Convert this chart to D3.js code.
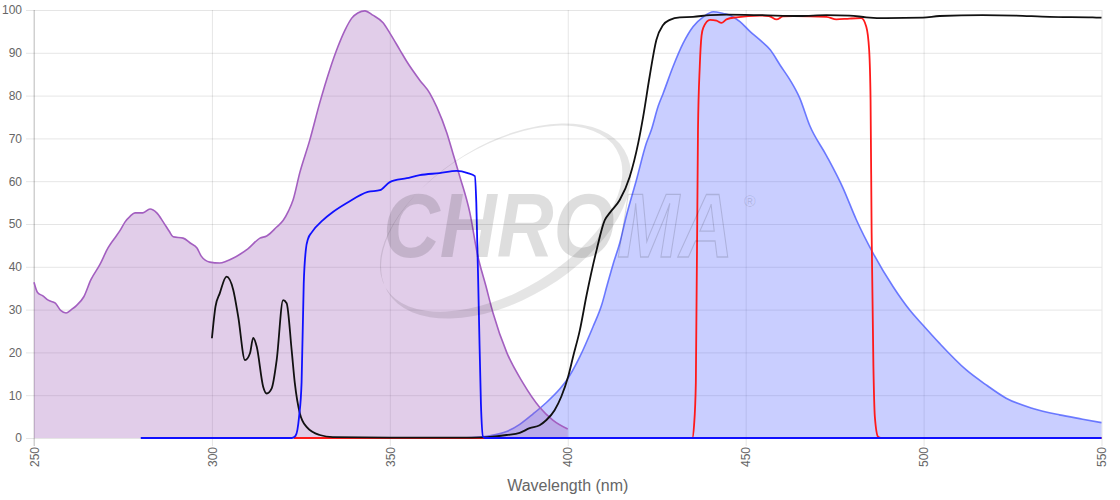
<!DOCTYPE html>
<html>
<head>
<meta charset="utf-8">
<script src="https://cdn.jsdelivr.net/npm/d3@7"></script>
<style>
  body { margin: 0; background: #fff; }
  svg { display: block; font-family: "Liberation Sans", Arial, sans-serif; }
</style>
</head>
<body>
<div id="chart"></div>
<script>
// spectra: [wavelength nm, % value]
var excitation = [[250,36.4],[251,34],[252.5,33.2],[254,32.2],[256,31.5],[257.5,29.8],[259,29.2],[260.5,30],[262,31],[264,33],[266,37],[268.5,40.5],[270.8,44.4],[272.5,46.5],[274.2,48.5],[275.6,50.5],[277,51.8],[278.4,52.6],[280.6,52.6],[282.6,53.5],[284.5,52.6],[286.3,50.5],[288,48.3],[289.1,47],[291.9,46.7],[294,45.5],[295.8,44.4],[297,42.5],[299.4,41.1],[302.2,40.9],[304,41.3],[305.9,42],[308,43],[310.1,44.2],[313.5,46.7],[315.4,47.2],[318.2,49.3],[320,50.8],[321.5,53],[322.8,55.6],[324.7,62],[327.5,69.6],[330.3,78.3],[333.1,86],[335.4,91.4],[337.4,95.3],[339.3,98.1],[341,99.3],[343,99.8],[345.2,98.8],[348.1,97],[350,94.6],[352.8,90.7],[354.8,87.9],[358.4,83.6],[361.2,80.6],[363.2,77.3],[366,71.3],[367.7,66.6],[369.7,61],[372.5,52.6],[374.6,43],[377,35.5],[379,29.2],[382.9,19.9],[387.4,12.9],[392.1,7.2],[395.8,4.2],[400,2.1]];

var emission = [[370,0],[375.3,0.2],[378,0.5],[382.8,1.5],[386.5,3.2],[390.2,5.6],[394,8.3],[397.8,11.5],[399.7,13.5],[403.4,19],[407.1,26],[409.5,31],[411,35.5],[412.7,40.5],[414.6,45.5],[416.5,52],[419.3,60.3],[422.1,68.9],[423.5,72],[425.4,77.5],[426.8,80.5],[429.6,86.8],[432.4,92.2],[435.2,96.1],[438.1,98.4],[440.9,99.6],[443.7,99.2],[445.6,98.8],[448.4,97.3],[451.2,95],[454,93],[456.9,90.7],[459.7,87.1],[462.5,83.6],[465.2,79.4],[468,73],[472.7,66],[477.3,58.5],[481.1,51],[485.8,43.2],[491.4,35.4],[496.1,29.9],[499.8,26.4],[504.5,22.1],[512,15.9],[517.6,12.4],[523.2,9.3],[530.7,6.9],[538.2,5.4],[544.7,4.4],[550,3.6]];

var exFilter = [[280,0],[322.5,0],[323.5,0.5],[324.5,5],[325.2,13],[325.8,36],[326.4,44],[327,46.5],[328.1,48.1],[331.2,50.9],[334,52.8],[337.9,54.9],[343.8,57.5],[347.2,57.9],[350,59.8],[354.8,60.7],[358.4,61.4],[364,61.9],[368.8,62.4],[371.9,61.9],[373.9,61.2],[374.3,55],[375,30],[375.6,8],[376.2,0.3],[377,0],[550,0]];

var dichroic = [[300,23.3],[301,30.7],[302.2,33.8],[304.1,37.7],[306,34.6],[307.4,28.3],[309.3,18.2],[310.7,19.8],[311.6,23.4],[312.6,21.3],[314.4,12],[315.4,10.4],[316.8,11.6],[318.2,18.2],[320,32.2],[321,31.5],[322.4,20.6],[323.3,12.8],[324.7,5.8],[326.6,2.6],[330.3,0.7],[334,0.2],[350,0.1],[370,0.1],[376,0.15],[382.8,0.7],[386.5,1.2],[389.3,2.3],[392.1,3],[394,4.2],[396.3,6.5],[398.2,9.7],[400.1,14.3],[401.5,19],[403.4,25.2],[405.3,33.4],[408.1,43.9],[410.4,50.9],[411.8,52.6],[414.6,55.6],[417.4,61],[419.8,68.9],[421.2,75.1],[423,84.4],[424.9,93],[426.8,96.5],[428.7,97.7],[431.5,98.3],[435.2,98.4],[440,98.8],[444.6,98.9],[454,98.8],[465.2,98.6],[472.7,98.8],[479.2,98.7],[483.9,98.3],[489.5,98.1],[499.8,98.2],[504.5,98.6],[516.6,98.8],[525.9,98.7],[535.4,98.4],[547.5,98.3],[550,98.2]];

var emFilter = [[323,0],[435,0],[435.5,3],[436,13],[436.6,72],[437.1,86.8],[437.6,94],[438.1,95.9],[440,97.7],[441.8,97.5],[443.2,97],[444.6,97.8],[447.4,98.3],[454,98.7],[456.5,98.6],[458.7,97.8],[460.5,98.5],[463.4,98.6],[472.7,98.4],[475.5,97.8],[479.2,98],[482.5,98.1],[483.9,96.1],[484.7,90.7],[485.1,79],[485.4,47.9],[485.9,16.7],[486.3,5],[487.2,0.3],[488,0],[550,0]];

var xTicks = [250, 300, 350, 400, 450, 500, 550];
var yTicks = [0, 10, 20, 30, 40, 50, 60, 70, 80, 90, 100];

var svgWidth = 1120, svgHeight = 500;
var margin = {top: 10, right: 18.5, bottom: 62, left: 34};
var width = svgWidth - margin.left - margin.right;
var height = svgHeight - margin.top - margin.bottom;

var svg = d3.select("#chart").append("svg")
    .attr("width", svgWidth)
    .attr("height", svgHeight);

var chartGroup = svg.append("g")
    .attr("transform", `translate(${margin.left}, ${margin.top})`);

var xScale = d3.scaleLinear().domain([250, 550]).range([0, width]);
var yScale = d3.scaleLinear().domain([0, 100]).range([height, 0]);

// watermark logo behind everything
var wm = svg.append("g").attr("class", "watermark");
var ell = function(cx, cy, rx, ry) {
    return `M${cx - rx},${cy} a${rx},${ry} 0 1,0 ${2 * rx},0 a${rx},${ry} 0 1,0 ${-2 * rx},0 Z`;
};
wm.append("path")
    .attr("transform", "translate(506,221) rotate(-31)")
    .attr("d", ell(0, 0, 138, 78) + ell(-3, -4.5, 134.5, 72.5))
    .attr("fill-rule", "evenodd")
    .attr("fill", "rgba(0,0,0,0.1)");
wm.append("text")
    .attr("transform", "translate(383,257) scale(0.875,1)")
    .attr("font-size", 90)
    .attr("font-weight", "bold")
    .attr("font-style", "italic")
    .attr("fill", "rgba(0,0,0,0.13)")
    .text("CHRO");
wm.append("text")
    .attr("transform", "translate(617,257) scale(0.829,1)")
    .attr("font-size", 90)
    .attr("font-weight", "bold")
    .attr("font-style", "italic")
    .attr("fill", "none")
    .attr("stroke", "rgba(0,0,0,0.14)").attr("stroke-width", 1.3)
    .text("MA");
wm.append("text").attr("x", 744).attr("y", 207)
    .attr("font-size", 16).attr("fill", "rgba(0,0,0,0.13)").text("®");

// grid
var xAxis = d3.axisBottom(xScale).tickValues(xTicks).tickSize(-height - 8).tickFormat(d3.format("d"));
var yAxis = d3.axisLeft(yScale).tickValues(yTicks).tickSize(-width - 8).tickPadding(4);

var gx = chartGroup.append("g")
    .attr("transform", `translate(0, ${height + 8})`)
    .call(xAxis);
var gy = chartGroup.append("g")
    .attr("transform", "translate(-8, 0)")
    .call(yAxis);
[gx, gy].forEach(function(g) {
    g.select(".domain").remove();
    g.selectAll("line").attr("stroke", "rgba(0,0,0,0.1)");
    g.selectAll("text").attr("fill", "#666").attr("font-size", 12)
        .attr("font-family", "'Liberation Sans', Arial, sans-serif");
});
gy.selectAll("text").attr("x", -4);
gx.selectAll("line").attr("y1", 0);
gx.selectAll("text")
    .attr("transform", "rotate(-90)")
    .attr("text-anchor", "end")
    .attr("x", -1)
    .attr("y", 0)
    .attr("dy", "0.35em");
// left axis line a bit darker
chartGroup.append("line")
    .attr("x1", 0).attr("x2", 0).attr("y1", 0).attr("y2", height + 8)
    .attr("stroke", "rgba(0,0,0,0.18)");

chartGroup.append("text")
    .attr("text-anchor", "middle")
    .attr("transform", `translate(${width / 2}, ${height + 53})`)
    .attr("fill", "#666")
    .attr("font-size", 16)
    .text("Wavelength (nm)");

var line = d3.line()
    .x(d => xScale(d[0]))
    .y(d => yScale(d[1]))
    .curve(d3.curveMonotoneX);
var area = d3.area()
    .x(d => xScale(d[0]))
    .y0(yScale(0))
    .y1(d => yScale(d[1]))
    .curve(d3.curveMonotoneX);

// emission spectrum (blue fill)
chartGroup.append("path").datum(emission)
    .attr("d", area).attr("fill", "rgba(75,92,255,0.3)");
chartGroup.append("path").datum(emission)
    .attr("d", line).attr("fill", "none")
    .attr("stroke", "rgba(75,92,255,0.8)").attr("stroke-width", 1.6);

// excitation spectrum (purple fill)
chartGroup.append("path").datum(excitation)
    .attr("d", area).attr("fill", "rgba(155,89,182,0.3)");
chartGroup.append("path").datum(excitation)
    .attr("d", line).attr("fill", "none")
    .attr("stroke", "#a35fc0").attr("stroke-width", 1.6);

// filters
chartGroup.append("path").datum(emFilter)
    .attr("d", line).attr("fill", "none")
    .attr("stroke", "#ff1a1a").attr("stroke-width", 1.8);
chartGroup.append("path").datum(dichroic)
    .attr("d", line).attr("fill", "none")
    .attr("stroke", "#111").attr("stroke-width", 1.8);
chartGroup.append("path").datum(exFilter)
    .attr("d", line).attr("fill", "none")
    .attr("stroke", "#1010ff").attr("stroke-width", 1.8);
</script>
</body>
</html>
